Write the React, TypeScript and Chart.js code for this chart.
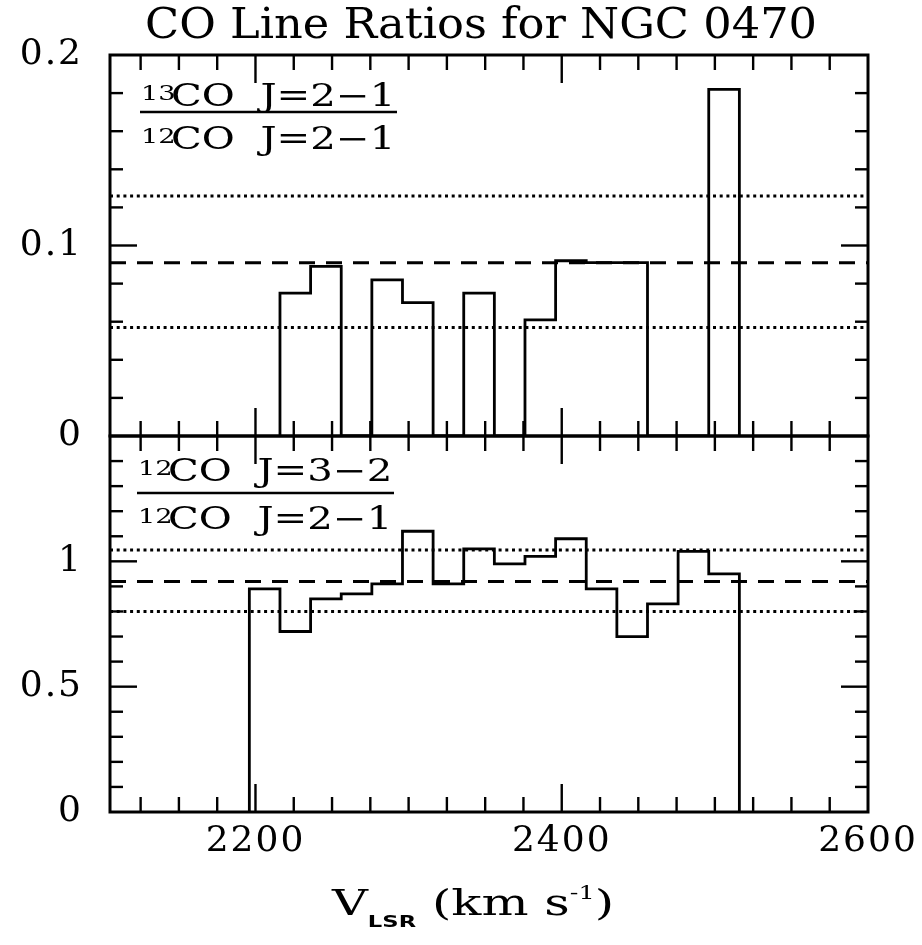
import React, { useEffect, useRef } from "react";
import { Chart, registerables } from "chart.js";

Chart.register(...registerables);

// ---------------- data ----------------
const X_MIN = 2105;
const X_MAX = 2600;
const X_TICK_LABELS = [2200, 2400, 2600];
const BIN_WIDTH = 20;

// 13CO(2-1) / 12CO(2-1)
const TOP_BIN_STARTS = [2216, 2236, 2256, 2276, 2296, 2316, 2336, 2356, 2376, 2396, 2416, 2436, 2456, 2476, 2496];
const TOP_RATIO = [0.075, 0.089, 0, 0.082, 0.07, 0, 0.075, 0, 0.061, 0.092, 0.091, 0.091, 0, 0, 0.182];
const TOP_MEAN = 0.091;
const TOP_UPPER = 0.126;
const TOP_LOWER = 0.057;
const TOP_Y_TICKS = [0, 0.1, 0.2];

// 12CO(3-2) / 12CO(2-1)
const BOT_BIN_STARTS = [2196, 2216, 2236, 2256, 2276, 2296, 2316, 2336, 2356, 2376, 2396, 2416, 2436, 2456, 2476, 2496];
const BOT_RATIO = [0.89, 0.72, 0.85, 0.87, 0.91, 1.12, 0.91, 1.05, 0.99, 1.02, 1.09, 0.89, 0.7, 0.83, 1.04, 0.95];
const BOT_MEAN = 0.92;
const BOT_UPPER = 1.045;
const BOT_LOWER = 0.8;
const BOT_Y_TICKS = [0, 0.5, 1];

// ---------------- helpers ----------------
function histogramPoints(starts: number[], values: number[]) {
  const pts: { x: number; y: number }[] = [{ x: starts[0], y: 0 }];
  starts.forEach((s, i) => {
    pts.push({ x: s, y: values[i] }, { x: s + BIN_WIDTH, y: values[i] });
  });
  pts.push({ x: starts[starts.length - 1] + BIN_WIDTH, y: 0 });
  return pts;
}
function levelLine(y: number) {
  return [
    { x: X_MIN, y },
    { x: X_MAX, y },
  ];
}

const FONT = "'DejaVu Serif', serif";
const tickFont = { family: FONT, size: 36 };

const frameTicksPlugin = {
  id: "frameTicks",
  beforeDraw(chart: any) {
    chart.ctx.letterSpacing = "2px";
  },
  afterDatasetsDraw(chart: any) {
    const ctx = chart.ctx;
    const xs = chart.scales.x;
    const panels = [
      { s: chart.scales.yTop, minor: 0.02, major: 0.1 },
      { s: chart.scales.yBot, minor: 0.1, major: 0.5 },
    ];
    ctx.save();
    ctx.strokeStyle = "#000";
    ctx.lineCap = "butt";
    const seg = (x1: number, y1: number, x2: number, y2: number) => {
      ctx.beginPath();
      ctx.moveTo(x1, y1);
      ctx.lineTo(x2, y2);
      ctx.stroke();
    };
    const isMult = (v: number, step: number) => Math.abs(v / step - Math.round(v / step)) < 1e-6;
    const L = xs.left;
    const R = xs.right;
    for (const p of panels) {
      const s = p.s;
      const T = s.top;
      const B = s.bottom;
      ctx.lineWidth = 2.4;
      const nY = Math.round((s.max - s.min) / p.minor);
      for (let i = 1; i < nY; i++) {
        const v = s.min + i * p.minor;
        const len = isMult(v, p.major) ? 27 : 13;
        const py = s.getPixelForValue(v);
        seg(L, py, L + len, py);
        seg(R, py, R - len, py);
      }
      const xStep = 25;
      const xMajor = 200;
      for (let v = Math.ceil(xs.min / xStep) * xStep; v < xs.max; v += xStep) {
        if (v <= xs.min) continue;
        const len = v % xMajor === 0 ? 28 : 15;
        const px = xs.getPixelForValue(v);
        seg(px, T, px, T + len);
        seg(px, B, px, B - len);
      }
      ctx.lineWidth = 3;
      ctx.strokeRect(L, T, R - L, B - T);
    }
    ctx.restore();
  },
};

export default function App() {
  const ref = useRef<HTMLCanvasElement>(null);

  useEffect(() => {
    const solid = {
      borderColor: "#000",
      borderWidth: 2.8,
      pointRadius: 0,
      fill: false,
      tension: 0,
    };
    const dashed = { ...solid, borderWidth: 3, borderDash: [16, 11] };
    const dotted = { ...solid, borderWidth: 3, borderDash: [3, 3.7] };

    const chart = new Chart(ref.current as HTMLCanvasElement, {
      type: "line",
      data: {
        datasets: [
          { ...solid, label: "13CO/12CO", data: histogramPoints(TOP_BIN_STARTS, TOP_RATIO), yAxisID: "yTop" },
          { ...dashed, label: "mean", data: levelLine(TOP_MEAN), yAxisID: "yTop" },
          { ...dotted, label: "+1σ", data: levelLine(TOP_UPPER), yAxisID: "yTop" },
          { ...dotted, label: "-1σ", data: levelLine(TOP_LOWER), yAxisID: "yTop" },
          { ...solid, label: "12CO32/12CO21", data: histogramPoints(BOT_BIN_STARTS, BOT_RATIO), yAxisID: "yBot" },
          { ...dashed, label: "mean", data: levelLine(BOT_MEAN), yAxisID: "yBot" },
          { ...dotted, label: "+1σ", data: levelLine(BOT_UPPER), yAxisID: "yBot" },
          { ...dotted, label: "-1σ", data: levelLine(BOT_LOWER), yAxisID: "yBot" },
        ] as any,
      },
      options: {
        responsive: false,
        animation: false,
        devicePixelRatio: 1,
        events: [],
        layout: { padding: { left: 0, right: 54, top: 55, bottom: 0 } },
        plugins: {
          legend: { display: false },
          tooltip: { enabled: false },
          title: { display: false },
        },
        scales: {
          x: {
            type: "linear",
            position: "bottom",
            min: X_MIN,
            max: X_MAX,
            afterBuildTicks: (s: any) => {
              s.ticks = X_TICK_LABELS.map((v) => ({ value: v }));
            },
            afterFit: (s: any) => {
              s.height = 133;
            },
            ticks: {
              font: tickFont,
              color: "#000",
              padding: 8,
              maxRotation: 0,
              autoSkip: false,
              callback: (v: any) => String(v),
            },
            grid: { display: false, drawTicks: false },
            border: { display: false },
          },
          yTop: {
            type: "linear",
            position: "left",
            stack: "panels",
            stackWeight: 381,
            weight: 2,
            min: 0,
            max: 0.2,
            afterBuildTicks: (s: any) => {
              s.ticks = TOP_Y_TICKS.map((v) => ({ value: v }));
            },
            afterFit: (s: any) => {
              s.width = 110;
            },
            ticks: {
              font: tickFont,
              color: "#000",
              padding: 27,
              autoSkip: false,
              callback: (v: any) => String(v),
            },
            grid: { display: false, drawTicks: false },
            border: { display: false },
          },
          yBot: {
            type: "linear",
            position: "left",
            stack: "panels",
            stackWeight: 376,
            weight: 1,
            min: 0,
            max: 1.5,
            afterBuildTicks: (s: any) => {
              s.ticks = BOT_Y_TICKS.map((v) => ({ value: v }));
            },
            afterFit: (s: any) => {
              s.width = 110;
            },
            ticks: {
              font: tickFont,
              color: "#000",
              padding: 27,
              autoSkip: false,
              callback: (v: any) => String(v),
            },
            grid: { display: false, drawTicks: false },
            border: { display: false },
          },
        } as any,
      },
      plugins: [frameTicksPlugin as any],
    });
    return () => chart.destroy();
  }, []);

  const S = 1.3;
  const XS = 1.42;
  return (
    <div style={{ position: "absolute", left: 0, top: 0, width: 922, height: 945, background: "#fff" }}>
      <canvas
        ref={ref}
        width={922}
        height={945}
        style={{ position: "absolute", left: 0, top: 0, width: 922, height: 945 }}
      />
      <svg
        width={922}
        height={945}
        style={{ position: "absolute", left: 0, top: 0, pointerEvents: "none" }}
        fontFamily={FONT}
        fill="#000"
      >
        <text x={145} y={38} fontSize={42} textLength={672} lengthAdjust="spacingAndGlyphs">
          CO Line Ratios for NGC 0470
        </text>

        {/* top panel label */}
        <text transform={`scale(${S} 1)`} fontSize={31} style={{ whiteSpace: "pre" }}>
          <tspan x={141 / S} y={100} fontSize={21}>13</tspan>
          <tspan x={171 / S} y={106}>CO  J=2−1</tspan>
        </text>
        <line x1={140} x2={397} y1={112} y2={112} stroke="#000" strokeWidth={2.6} />
        <text transform={`scale(${S} 1)`} fontSize={31} style={{ whiteSpace: "pre" }}>
          <tspan x={141 / S} y={143} fontSize={21}>12</tspan>
          <tspan x={171 / S} y={149}>CO  J=2−1</tspan>
        </text>

        {/* bottom panel label */}
        <text transform={`scale(${S} 1)`} fontSize={31} style={{ whiteSpace: "pre" }}>
          <tspan x={138 / S} y={475} fontSize={21}>12</tspan>
          <tspan x={168 / S} y={481}>CO  J=3−2</tspan>
        </text>
        <line x1={137} x2={394} y1={493} y2={493} stroke="#000" strokeWidth={2.6} />
        <text transform={`scale(${S} 1)`} fontSize={31} style={{ whiteSpace: "pre" }}>
          <tspan x={138 / S} y={523} fontSize={21}>12</tspan>
          <tspan x={168 / S} y={529}>CO  J=2−1</tspan>
        </text>

        {/* x axis title */}
        <text transform={`scale(${XS} 1)`} fontSize={35} style={{ whiteSpace: "pre" }}>
          <tspan x={332 / XS} y={915}>V</tspan>
          <tspan y={927} fontSize={16} fontFamily="'DejaVu Sans', sans-serif" fontWeight="bold">LSR</tspan>
          <tspan y={915}> (km s</tspan>
          <tspan y={899} fontSize={18}>-1</tspan>
          <tspan y={915}>)</tspan>
        </text>
      </svg>
    </div>
  );
}
